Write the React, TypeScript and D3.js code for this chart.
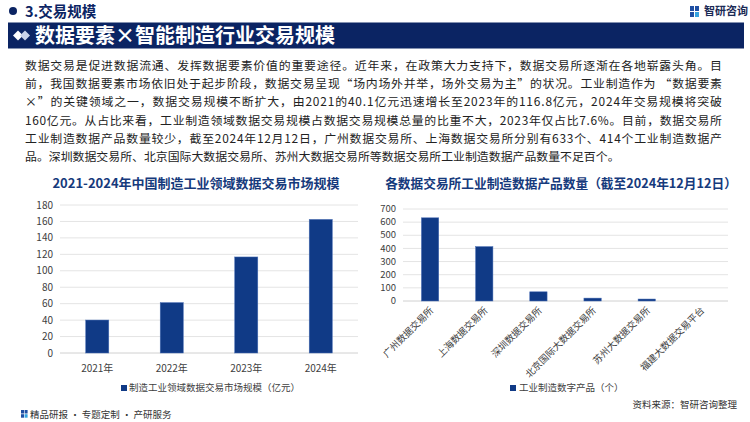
import React from 'react';
import * as d3 from 'd3';

const years = ['2021年', '2022年', '2023年', '2024年'];
const marketSize = [40.1, 61.3, 116.8, 162.5];
const leftTicks = [0, 20, 40, 60, 80, 100, 120, 140, 160, 180];
const leftLegend = '制造工业领域数据交易市场规模（亿元）';

const exchanges = ['广州数据交易所', '上海数据交易所', '深圳数据交易所', '北京国际大数据交易所', '苏州大数据交易所', '福建大数据交易平台'];
const productCounts = [633, 414, 70, 22, 15, 0];
const rightTicks = [0, 100, 200, 300, 400, 500, 600, 700];
const rightLegend = '工业制造数字产品（个）';

const paragraph = [
  '数据交易是促进数据流通、发挥数据要素价值的重要途径。近年来，在政策大力支持下，数据交易所逐渐在各地崭露头角。目',
  '前，我国数据要素市场依旧处于起步阶段，数据交易呈现“场内场外并举，场外交易为主”的状况。工业制造作为 “数据要素',
  '×”的关键领域之一，数据交易规模不断扩大，由2021的40.1亿元迅速增长至2023年的116.8亿元，2024年交易规模将突破',
  '160亿元。从占比来看，工业制造领域数据交易规模占数据交易规模总量的比重不大，2023年仅占比7.6%。目前，数据交易所',
  '工业制造数据产品数量较少，截至2024年12月12日，广州数据交易所、上海数据交易所分别有633个、414个工业制造数据产',
  '品。深圳数据交易所、北京国际大数据交易所、苏州大数据交易所等数据交易所工业制造数据产品数量不足百个。',
];

const FONT = '"Noto Sans CJK SC", "Noto Sans", sans-serif';
const NAVY = '#0b2463';
const BAR = '#103a86';
const TITLE = '#163a7c';

const App: React.FC = () => {
  // left chart scales
  const lx = d3.scaleBand<string>().domain(years).range([60, 358]).paddingInner(0.69).paddingOuter(0.345);
  const ly = d3.scaleLinear().domain([0, 180]).range([353, 205]);

  // right chart scales
  const rx = d3.scaleBand<string>().domain(exchanges).range([403, 728]).paddingInner(0.68).paddingOuter(0.34);
  const ry = d3.scaleLinear().domain([0, 700]).range([301, 209]);

  return (
    <svg width={750} height={422} style={{ position: 'absolute', left: 0, top: 0, fontFamily: FONT }}>
      <defs>
        <linearGradient id="hdrLine" x1="0" x2="1" y1="0" y2="0">
          <stop offset="0" stopColor="#2a3f7a" />
          <stop offset="1" stopColor="#9fb0d6" />
        </linearGradient>
        <linearGradient id="footLine" x1="0" x2="1" y1="0" y2="0">
          <stop offset="0" stopColor="#ffffff" />
          <stop offset="1" stopColor="#2a3f7a" />
        </linearGradient>
      </defs>
      <rect width={750} height={422} fill="#ffffff" />

      {/* header */}
      <circle cx={13} cy={11} r={4} fill={NAVY} />
      <text x={25} y={17} fontSize={14.5} fontWeight="bold" fill={NAVY}>3.交易规模</text>
      <line x1={102} x2={675} y1={11} y2={11} stroke="url(#hdrLine)" strokeWidth={1.2} />
      <g transform="translate(690,5)">
        <rect x={0} y={1} width={4} height={5} fill="#1f4fa3" />
        <rect x={5} y={1} width={4} height={5} fill="#1f4fa3" />
        <rect x={0} y={7} width={4} height={5} fill="#1f4fa3" />
        <rect x={5} y={7} width={4} height={5} fill="#35a3e0" />
      </g>
      <text x={704} y={15} fontSize={11} fontWeight="bold" fill="#1a2a55">智研咨询</text>

      {/* title bar */}
      <rect x={8} y={22.5} width={736} height={26} fill={NAVY} />
      <path d="M13,35.5 L18,30.5 L23,35.5 L18,40.5 Z" fill="#ffffff" />
      <path d="M20,35.5 L25,30.5 L30,35.5 L25,40.5 Z" fill="#c9d3ea" />
      <text x={35} y={43} fontSize={20} fontWeight="bold" fill="#ffffff">数据要素×智能制造行业交易规模</text>

      {/* paragraph */}
      {paragraph.map((line, i) => (
        <text
          key={i}
          x={25}
          y={69.5 + i * 18.35}
          fontSize={11.9}
          fill="#222222"
          {...(i < paragraph.length - 1 ? { textLength: 697, lengthAdjust: 'spacing' } : {})}
        >
          {line}
        </text>
      ))}

      {/* left chart */}
      <text x={196} y={188} textAnchor="middle" fontSize={13} fontWeight="bold" fill={TITLE}>
        2021-2024年中国制造工业领域数据交易市场规模
      </text>
      {leftTicks.map((t) => (
        <g key={t}>
          <line x1={60} x2={358} y1={ly(t)} y2={ly(t)} stroke={t === 0 ? '#d0d0d0' : '#e4e4e4'} strokeWidth={1} />
          <text x={53} y={ly(t) + 3.5} textAnchor="end" fontSize={10} fill="#404040">{t}</text>
        </g>
      ))}
      {years.map((y, i) => (
        <g key={y}>
          <rect x={lx(y)} y={ly(marketSize[i])} width={lx.bandwidth()} height={ly(0) - ly(marketSize[i])} fill={BAR} stroke="#4a6fb5" strokeWidth={0.5} />
          <text x={(lx(y) ?? 0) + lx.bandwidth() / 2} y={372} textAnchor="middle" fontSize={10} fill="#404040">{y}</text>
        </g>
      ))}
      <rect x={121} y={385} width={6} height={6} fill={BAR} />
      <text x={129} y={391} fontSize={9.5} fill="#404040">{leftLegend}</text>

      {/* right chart */}
      <text x={561} y={188} textAnchor="middle" fontSize={12.7} fontWeight="bold" fill={TITLE}>
        各数据交易所工业制造数据产品数量（截至2024年12月12日）
      </text>
      {rightTicks.map((t) => (
        <g key={t}>
          <line x1={403} x2={728} y1={ry(t)} y2={ry(t)} stroke={t === 0 ? '#d0d0d0' : '#e4e4e4'} strokeWidth={1} />
          <text x={396} y={ry(t) + 3.2} textAnchor="end" fontSize={9.5} fill="#404040">{t}</text>
        </g>
      ))}
      {exchanges.map((e, i) => {
        const cx = (rx(e) ?? 0) + rx.bandwidth() / 2;
        return (
          <g key={e}>
            {productCounts[i] > 0 && (
              <rect x={rx(e)} y={ry(productCounts[i])} width={rx.bandwidth()} height={ry(0) - ry(productCounts[i])} fill={BAR} stroke="#4a6fb5" strokeWidth={0.5} />
            )}
            <text
              transform={`translate(${cx + 4},${311}) rotate(-45)`}
              textAnchor="end"
              fontSize={9.5}
              fill="#404040"
            >
              {e}
            </text>
          </g>
        );
      })}
      <rect x={510} y={385} width={6} height={6} fill={BAR} />
      <text x={519} y={391} fontSize={9.5} fill="#404040">{rightLegend}</text>

      {/* footer */}
      <line x1={0} x2={620} y1={404} y2={404} stroke="url(#footLine)" strokeWidth={1} />
      <text x={737} y={408} textAnchor="end" fontSize={9.5} fill="#333333">资料来源：智研咨询整理</text>
      <g transform="translate(21,410)">
        <rect x={0} y={0} width={3} height={3.5} fill="#1f4fa3" />
        <rect x={3.6} y={0} width={3} height={3.5} fill="#1f4fa3" />
        <rect x={0} y={4.2} width={3} height={3.5} fill="#1f4fa3" />
        <rect x={3.6} y={4.2} width={3} height={3.5} fill="#35a3e0" />
      </g>
      <text x={30} y={418} fontSize={9.5} fill="#333333">精品研报 · 专题定制 · 产研服务</text>
    </svg>
  );
};

export default App;
